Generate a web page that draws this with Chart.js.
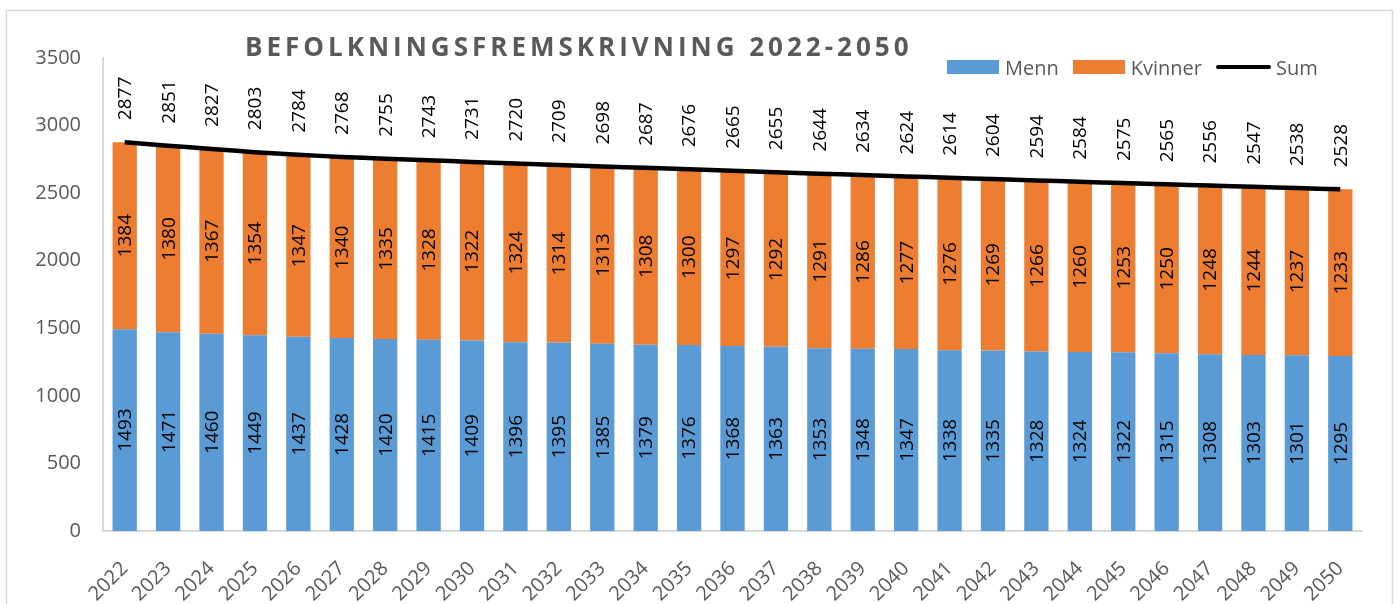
<!DOCTYPE html>
<html>
<head>
<meta charset="utf-8">
<script src="https://cdn.jsdelivr.net/npm/chart.js"></script>
<style>
  body { margin: 0; background: #fff; overflow: hidden; }
  #wrap { position: relative; width: 1399px; height: 604px; }
  #title {
    position: absolute; left: 245px; top: 31px;
    font-family: 'Open Sans', sans-serif; font-weight: bold; font-size: 26px;
    letter-spacing: 4px; color: #595959; white-space: nowrap; line-height: 30px;
  }
  #legend {
    position: absolute; left: 947px; top: 55px; height: 24px;
    display: flex; align-items: center;
    font-family: 'Open Sans', sans-serif; font-size: 20px; color: #595959;
  }
  .item { display: flex; align-items: center; margin-right: 14px; }
  .box { width: 52px; height: 14px; margin-right: 6px; }
  .ln { width: 55px; height: 4px; background: #000; border-radius: 2px; margin-right: 5px; }
</style>
</head>
<body>
<div id="wrap">
  <canvas id="popChart" width="1399" height="604"></canvas>
  <div id="title">BEFOLKNINGSFREMSKRIVNING 2022-2050</div>
  <div id="legend">
    <div class="item"><div class="box" style="background:#5B9BD5"></div>Menn</div>
    <div class="item"><div class="box" style="background:#ED7D31"></div>Kvinner</div>
    <div class="item"><div class="ln"></div>Sum</div>
  </div>
</div>
<script>
const years = ['2022','2023','2024','2025','2026','2027','2028','2029','2030','2031',
  '2032','2033','2034','2035','2036','2037','2038','2039','2040','2041',
  '2042','2043','2044','2045','2046','2047','2048','2049','2050'];
const menn = [1493,1471,1460,1449,1437,1428,1420,1415,1409,1396,
  1395,1385,1379,1376,1368,1363,1353,1348,1347,1338,
  1335,1328,1324,1322,1315,1308,1303,1301,1295];
const kvinner = [1384,1380,1367,1354,1347,1340,1335,1328,1322,1324,
  1314,1313,1308,1300,1297,1292,1291,1286,1277,1276,
  1269,1266,1260,1253,1250,1248,1244,1237,1233];
const sum = [2877,2851,2827,2803,2784,2768,2755,2743,2731,2720,
  2709,2698,2687,2676,2665,2655,2644,2634,2624,2614,
  2604,2594,2584,2575,2565,2556,2547,2538,2528];
const yTicks = [0,500,1000,1500,2000,2500,3000,3500];

Chart.defaults.font.family = "'Open Sans', sans-serif";

// frame round the whole chart
const framePlugin = {
  id: 'frame',
  beforeDraw(chart) {
    const ctx = chart.ctx;
    ctx.save();
    ctx.fillStyle = '#fff';
    ctx.fillRect(0, 0, chart.width, chart.height);
    ctx.strokeStyle = '#d9d9d9';
    ctx.lineWidth = 1.5;
    ctx.strokeRect(6.5, 10.5, 1386, 640);
    ctx.restore();
  }
};

// rotated value labels, like the Excel data labels
const valueLabels = {
  id: 'valueLabels',
  afterDatasetsDraw(chart) {
    const ctx = chart.ctx;
    ctx.save();
    ctx.font = "19px 'Open Sans', sans-serif";
    ctx.fillStyle = '#000';
    chart.data.datasets.forEach((ds, di) => {
      const meta = chart.getDatasetMeta(di);
      meta.data.forEach((el, i) => {
        const v = ds.data[i];
        ctx.save();
        if (ds.type === 'line') {
          ctx.translate(el.x, el.y - 22);
          ctx.rotate(-Math.PI / 2);
          ctx.textAlign = 'left';
          ctx.textBaseline = 'middle';
        } else {
          ctx.translate(el.x, (el.y + el.base) / 2);
          ctx.rotate(-Math.PI / 2);
          ctx.textAlign = 'center';
          ctx.textBaseline = 'middle';
        }
        ctx.fillText(String(v), 0, 1);
        ctx.restore();
      });
    });
    ctx.restore();
  }
};

const ctx = document.getElementById('popChart').getContext('2d');
const chart = new Chart(ctx, {
  data: {
    labels: years,
    datasets: [
      {
        type: 'line',
        label: 'Sum',
        data: sum,
        borderColor: '#000',
        borderWidth: 4.5,
        pointRadius: 0,
        tension: 0.2,
        stack: 'sum',
        order: 0
      },
      {
        type: 'bar',
        label: 'Menn',
        data: menn,
        backgroundColor: '#5B9BD5',
        stack: 'pop',
        order: 1,
        categoryPercentage: 1,
        barPercentage: 0.56
      },
      {
        type: 'bar',
        label: 'Kvinner',
        data: kvinner,
        backgroundColor: '#ED7D31',
        stack: 'pop',
        order: 1,
        categoryPercentage: 1,
        barPercentage: 0.56
      }
    ]
  },
  options: {
    responsive: false,
    animation: false,
    layout: { padding: { top: 58, right: 37, left: 0, bottom: 0 } },
    plugins: {
      legend: { display: false },
      tooltip: { enabled: false }
    },
    scales: {
      x: {
        stacked: true,
        grid: { display: false, drawTicks: false },
        border: { display: true, color: '#d9d9d9', width: 2 },
        ticks: {
          color: '#595959',
          font: { size: 20 },
          minRotation: 45,
          maxRotation: 45,
          padding: 26
        },
        afterFit(s) { s.height = 73; }
      },
      y: {
        stacked: true,
        min: 0,
        max: 3500,
        grid: { display: false, drawTicks: false },
        border: { display: true, color: '#d9d9d9', width: 2 },
        afterBuildTicks(s) { s.ticks = yTicks.map(v => ({ value: v })); },
        ticks: {
          color: '#595959',
          font: { size: 20 },
          padding: 22,
          callback: v => String(v)
        },
        afterFit(s) { s.width = 103; }
      }
    }
  },
  plugins: [framePlugin, valueLabels]
});
</script>
</body>
</html>
